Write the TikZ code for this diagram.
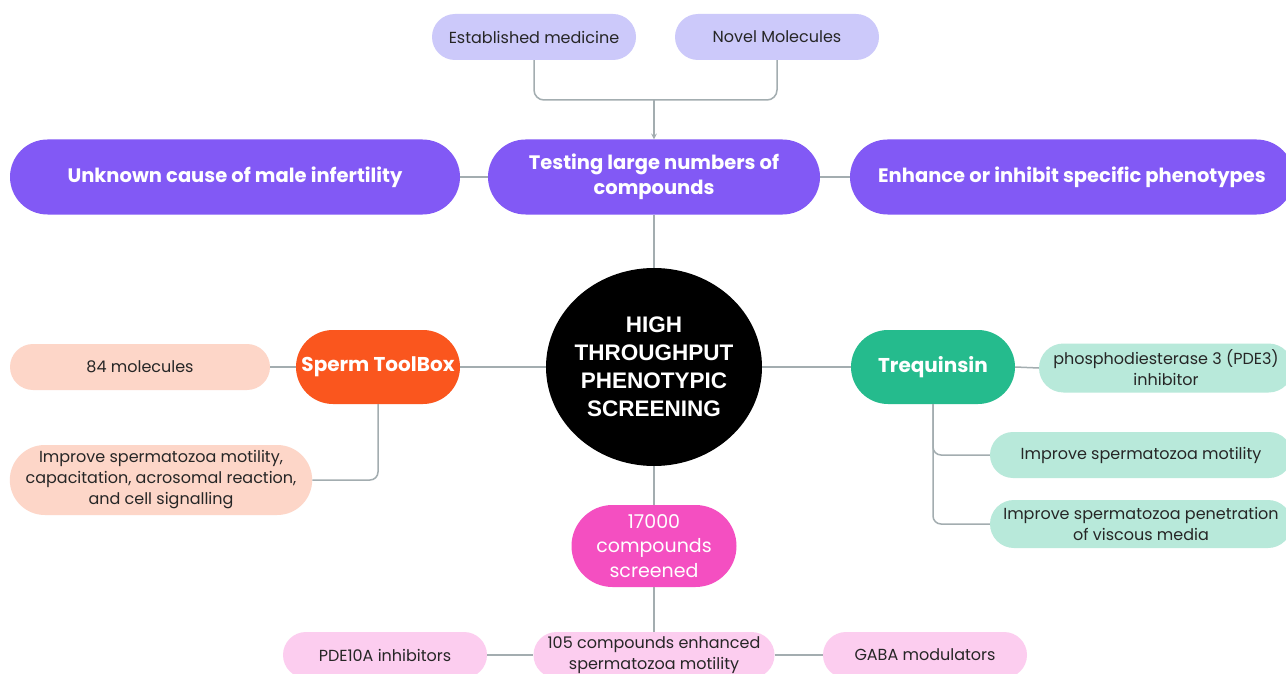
\documentclass[tikz,border=0pt]{standalone}
\usepackage{fontspec}
\setmainfont{Poppins}
\newfontfamily\hubfont{Liberation Sans}
\usetikzlibrary{shapes.misc,shapes.geometric}
\definecolor{lavender}{HTML}{CCC9FA}
\definecolor{violet}{HTML}{8259F5}
\definecolor{tangerine}{HTML}{FA561E}
\definecolor{peach}{HTML}{FDD6C8}
\definecolor{jade}{HTML}{25BB8D}
\definecolor{mint}{HTML}{B8E9DA}
\definecolor{magenta}{HTML}{F44FC1}
\definecolor{blush}{HTML}{FCCDEF}
\definecolor{linegray}{HTML}{A3ADB0}
\begin{document}
\begin{tikzpicture}[>=stealth, x=1pt, y=-1pt,
	pill/.style={rounded rectangle, inner sep=0pt, align=center, minimum height=46pt},
	small/.style={pill, text=black!85, font=\fontsize{16}{21}\selectfont},
	big/.style={pill, fill=violet, text=white, minimum height=75pt, font=\fontsize{19.5}{25}\selectfont\bfseries},
	tool/.style={pill, text=white, minimum width=164pt, minimum height=74pt, font=\fontsize{20}{25}\selectfont\bfseries},
	conn/.style={draw=linegray, line width=1.5pt}]
	\clip (0,0) rectangle (1286,674);
	\fill[white] (0,0) rectangle (1286,674);
	\node[small, fill=lavender, minimum width=204pt] (est) at (534,37) {Established medicine};
	\node[small, fill=lavender, minimum width=204pt] (novel) at (777,37) {Novel Molecules};
	\node[big, minimum width=450pt] (unk) at (235,177) {Unknown cause of male infertility};
	\node[big, minimum width=332pt] (test) at (654,177) {Testing large numbers of\\compounds};
	\node[big, minimum width=444pt] (phen) at (1072,177) {Enhance or inhibit specific phenotypes};
	\node[ellipse, fill=black, text=white, inner sep=-8pt, minimum width=216pt, minimum height=198pt, align=center, font=\hubfont\fontsize{22.5}{28}\selectfont\bfseries] (hts) at (654,367) {HIGH\\THROUGHPUT\\PHENOTYPIC\\SCREENING};
	\node[tool, fill=tangerine] (spt) at (378,367) {Sperm ToolBox};
	\node[small, fill=peach, minimum width=260pt] (mol) at (140,367) {84 molecules};
	\node[small, fill=peach, minimum width=302pt, minimum height=70pt] (cap) at (161,480) {Improve spermatozoa motility,\\capacitation, acrosomal reaction,\\and cell signalling};
	\node[tool, fill=jade] (treq) at (933,367) {Trequinsin};
	\node[small, fill=mint, minimum width=254pt, minimum height=49pt] (pde3) at (1166,368) {phosphodiesterase 3 (PDE3)\\inhibitor};
	\node[small, fill=mint, minimum width=302pt] (mot) at (1141,455) {Improve spermatozoa motility};
	\node[small, fill=mint, minimum width=302pt, minimum height=48pt] (pen) at (1141,524) {Improve spermatozoa penetration\\of viscous media};
	\node[pill, fill=magenta, text=white, minimum width=165pt, minimum height=82pt, font=\fontsize{19}{24.5}\selectfont] (scr) at (654,546) {17000\\compounds\\screened};
	\node[small, fill=blush, minimum width=241pt] (hit) at (654,655) {105 compounds enhanced\\spermatozoa motility};
	\node[small, fill=blush, minimum width=204pt] (pde10) at (385,655) {PDE10A inhibitors};
	\node[small, fill=blush, minimum width=204pt] (gaba) at (925,655) {GABA modulators};
	\coordinate (join) at (654,100);
	\draw[conn, rounded corners=10pt] (est.south) |- (join);
	\draw[conn, rounded corners=10pt] (novel.south) |- (join);
	\draw[conn, ->] (join) -- (test.north);
	\draw[conn] (unk.east) -- (test.west);
	\draw[conn] (test.east) -- (phen.west);
	\draw[conn] (test.south) -- (hts.north);
	\draw[conn] (mol.east) -- (spt.west);
	\draw[conn] (spt.east) -- (hts.west);
	\draw[conn, rounded corners=8pt] (spt.south) |- (cap.east);
	\draw[conn] (hts.east) -- (treq.west);
	\draw[conn] (treq.east) -- (pde3.west);
	\draw[conn, rounded corners=8pt] (treq.south) |- (mot.west);
	\draw[conn, rounded corners=8pt] (treq.south) |- (pen.west);
	\draw[conn] (hts.south) -- (scr.north);
	\draw[conn] (scr.south) -- (hit.north);
	\draw[conn] (pde10.east) -- (hit.west);
	\draw[conn] (hit.east) -- (gaba.west);
\end{tikzpicture}
\end{document}
